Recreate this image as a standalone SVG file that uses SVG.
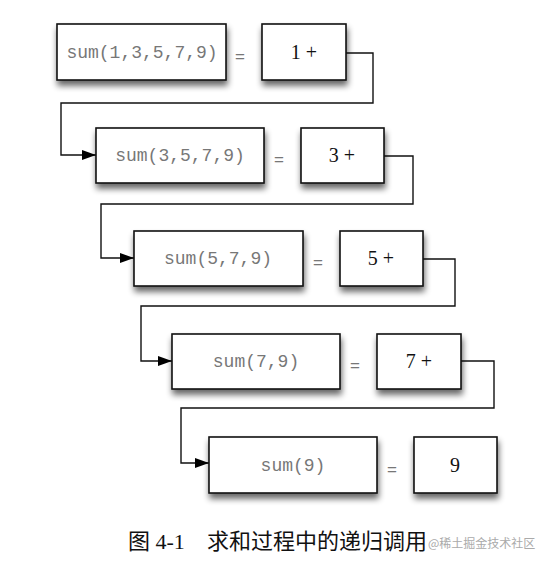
<svg xmlns="http://www.w3.org/2000/svg" width="544" height="564" viewBox="0 0 544 564">
<defs>
<filter id="sh" x="-20%" y="-20%" width="140%" height="160%">
<feGaussianBlur in="SourceAlpha" stdDeviation="3"/>
<feOffset dx="1" dy="5" result="b"/>
<feComponentTransfer><feFuncA type="linear" slope="0.6"/></feComponentTransfer>
<feMerge><feMergeNode/><feMergeNode in="SourceGraphic"/></feMerge>
</filter>
<marker id="ah" viewBox="0 0 14 10" refX="14" refY="5" markerWidth="14" markerHeight="10" markerUnits="userSpaceOnUse" orient="auto">
<path d="M0,0 L14,5 L0,10 Z" fill="#000"/>
</marker>
<style>
.box{fill:#fff;stroke:#111;stroke-width:1.6;filter:url(#sh)}
.code{font-family:"Liberation Mono",monospace;font-size:18px;fill:#777;text-anchor:middle}
.num{font-family:"Liberation Serif",serif;font-size:20px;fill:#111;text-anchor:middle}
.eq{font-family:"Liberation Sans",sans-serif;font-size:17px;fill:#777;text-anchor:middle}
.con{fill:none;stroke:#111;stroke-width:1.4}
</style>
</defs>
<rect width="544" height="564" fill="#fff"/>
<g id="connectors">
<path class="con" d="M346,53 H373 V103 H61 V155 H96" marker-end="url(#ah)"/>
<path class="con" d="M384,156 H413 V204 H101 V258 H134" marker-end="url(#ah)"/>
<path class="con" d="M423,259 H455 V306 H141 V361 H172" marker-end="url(#ah)"/>
<path class="con" d="M461,361 H494 V408 H181 V463 H209" marker-end="url(#ah)"/>
</g>
<g id="row1">
<rect class="box" x="57" y="24" width="169" height="56"/>
<text class="code" x="142" y="58">sum(1,3,5,7,9)</text>
<text class="eq" x="240" y="62">=</text>
<rect class="box" x="262" y="24" width="84" height="56"/>
<text class="num" x="304" y="59">1 +</text>
</g>
<g id="row2">
<rect class="box" x="96" y="128" width="168" height="55"/>
<text class="code" x="180" y="161">sum(3,5,7,9)</text>
<text class="eq" x="279" y="165">=</text>
<rect class="box" x="301" y="128" width="83" height="55"/>
<text class="num" x="342" y="162">3 +</text>
</g>
<g id="row3">
<rect class="box" x="134" y="231" width="169" height="55"/>
<text class="code" x="218" y="264">sum(5,7,9)</text>
<text class="eq" x="318" y="268">=</text>
<rect class="box" x="340" y="231" width="83" height="55"/>
<text class="num" x="381" y="265">5 +</text>
</g>
<g id="row4">
<rect class="box" x="172" y="334" width="168" height="55"/>
<text class="code" x="256" y="367">sum(7,9)</text>
<text class="eq" x="355" y="371">=</text>
<rect class="box" x="377" y="334" width="84" height="55"/>
<text class="num" x="419" y="368">7 +</text>
</g>
<g id="row5">
<rect class="box" x="209" y="437" width="168" height="56"/>
<text class="code" x="293" y="471">sum(9)</text>
<text class="eq" x="392" y="475">=</text>
<rect class="box" x="414" y="437" width="83" height="56"/>
<text class="num" x="455" y="472">9</text>
</g>
<g id="caption">
<text x="128" y="549" font-family="'Liberation Serif','Noto Sans CJK SC',serif" font-size="22" fill="#111">图 4-1<tspan x="207">求和过程中的递归调用</tspan></text>
<text x="428" y="548" font-family="'Noto Sans CJK SC',sans-serif" font-size="12" fill="#aaa">@稀土掘金技术社区</text>
</g>
</svg>
